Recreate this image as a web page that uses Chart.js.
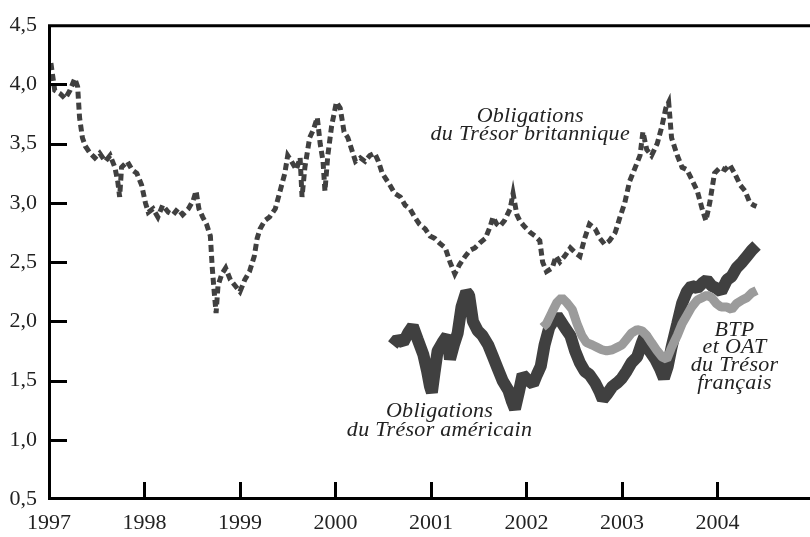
<!DOCTYPE html>
<html>
<head>
<meta charset="utf-8">
<script src="https://cdn.jsdelivr.net/npm/chart.js@4"></script>
<style>
  body { margin: 0; background: #fff; }
  #wrap { width: 810px; height: 537px; }
</style>
</head>
<body>
<div id="wrap"><canvas id="chart" width="810" height="537"></canvas></div>
<script>
// UK gilts (Obligations du Trésor britannique)
const ukDates = [
  1997.02, 1997.06, 1997.12, 1997.17, 1997.22, 1997.27, 1997.30, 1997.32, 1997.35, 1997.38,
  1997.43, 1997.48, 1997.53, 1997.59, 1997.64, 1997.69, 1997.72, 1997.74, 1997.76, 1997.82,
  1997.87, 1997.92, 1997.97, 1998.01, 1998.04, 1998.09, 1998.14, 1998.19, 1998.25, 1998.30,
  1998.35, 1998.40, 1998.46, 1998.51, 1998.54, 1998.57, 1998.61, 1998.65, 1998.69, 1998.71,
  1998.73, 1998.75, 1998.77, 1998.81, 1998.85, 1998.90, 1998.95, 1999.00, 1999.05, 1999.10,
  1999.15, 1999.18, 1999.21, 1999.26, 1999.31, 1999.37, 1999.42, 1999.47, 1999.50, 1999.54,
  1999.59, 1999.63, 1999.65, 1999.68, 1999.73, 1999.77, 1999.81, 1999.84, 1999.87, 1999.89,
  1999.92, 1999.96, 2000.01, 2000.05, 2000.09, 2000.13, 2000.17, 2000.21, 2000.26, 2000.31,
  2000.36, 2000.41, 2000.45, 2000.49, 2000.53, 2000.57, 2000.62, 2000.68, 2000.73, 2000.78,
  2000.83, 2000.88, 2000.94, 2000.99, 2001.04, 2001.09, 2001.15, 2001.20, 2001.25, 2001.30,
  2001.36, 2001.41, 2001.46, 2001.51, 2001.57, 2001.62, 2001.65, 2001.69, 2001.72, 2001.77,
  2001.83, 2001.86, 2001.90, 2001.93, 2001.98, 2002.04, 2002.09, 2002.14, 2002.17, 2002.21,
  2002.27, 2002.31, 2002.35, 2002.40, 2002.46, 2002.51, 2002.56, 2002.61, 2002.66, 2002.72,
  2002.77, 2002.82, 2002.87, 2002.93, 2002.98, 2003.03, 2003.08, 2003.14, 2003.19, 2003.22,
  2003.26, 2003.31, 2003.37, 2003.42, 2003.46, 2003.49, 2003.52, 2003.58, 2003.63, 2003.68,
  2003.73, 2003.79, 2003.84, 2003.88, 2003.92, 2003.97, 2004.03, 2004.08, 2004.13, 2004.18,
  2004.24, 2004.29, 2004.34, 2004.38, 2004.41
];
const ukYields = [
  4.18, 3.95, 3.92, 3.88, 3.95, 4.05, 3.98, 3.72, 3.55, 3.48,
  3.42, 3.38, 3.42, 3.35, 3.40, 3.30, 3.18, 3.05, 3.30, 3.35,
  3.28, 3.25, 3.15, 3.00, 2.92, 2.95, 2.88, 2.98, 2.92, 2.90,
  2.95, 2.90, 2.95, 3.02, 3.10, 2.95, 2.88, 2.82, 2.72, 2.45,
  2.25, 2.07, 2.30, 2.40, 2.45, 2.35, 2.30, 2.25, 2.35, 2.42,
  2.55, 2.70, 2.78, 2.85, 2.88, 2.95, 3.10, 3.25, 3.40, 3.35,
  3.28, 3.38, 3.05, 3.30, 3.55, 3.62, 3.72, 3.50, 3.35, 3.10,
  3.40, 3.65, 3.85, 3.80, 3.60, 3.55, 3.45, 3.35, 3.38, 3.35,
  3.40, 3.42, 3.35, 3.25, 3.20, 3.15, 3.08, 3.05, 2.98, 2.95,
  2.88, 2.82, 2.78, 2.72, 2.70, 2.66, 2.62, 2.50, 2.40, 2.48,
  2.55, 2.60, 2.62, 2.66, 2.70, 2.80, 2.88, 2.82, 2.80, 2.85,
  2.95, 3.08, 2.90, 2.85, 2.80, 2.75, 2.72, 2.68, 2.50, 2.42,
  2.45, 2.55, 2.50, 2.55, 2.62, 2.58, 2.55, 2.70, 2.82, 2.78,
  2.70, 2.65, 2.68, 2.75, 2.88, 3.00, 3.18, 3.30, 3.40, 3.60,
  3.45, 3.40, 3.50, 3.65, 3.80, 3.85, 3.55, 3.40, 3.30, 3.28,
  3.20, 3.10, 2.95, 2.85, 3.00, 3.25, 3.30, 3.28, 3.32, 3.25,
  3.15, 3.10, 3.00, 2.98, 2.97
];

// US Treasuries (Obligations du Trésor américain)
const usDates = [
  2000.60, 2000.65, 2000.71, 2000.76, 2000.81, 2000.86, 2000.92, 2000.96, 2000.99, 2001.01,
  2001.04, 2001.07, 2001.12, 2001.17, 2001.20, 2001.24, 2001.28, 2001.32, 2001.37, 2001.40,
  2001.44, 2001.49, 2001.54, 2001.60, 2001.65, 2001.70, 2001.75, 2001.81, 2001.85, 2001.88,
  2001.92, 2001.96, 2002.02, 2002.07, 2002.11, 2002.15, 2002.19, 2002.24, 2002.28, 2002.32,
  2002.36, 2002.40, 2002.46, 2002.51, 2002.56, 2002.61, 2002.66, 2002.72, 2002.77, 2002.80,
  2002.84, 2002.90, 2002.95, 2003.00, 2003.05, 2003.10, 2003.16, 2003.21, 2003.24, 2003.29,
  2003.35, 2003.40, 2003.44, 2003.48, 2003.52, 2003.58, 2003.63, 2003.68, 2003.73, 2003.79,
  2003.84, 2003.89, 2003.94, 2003.99, 2004.04, 2004.10, 2004.15, 2004.20, 2004.26, 2004.31,
  2004.36, 2004.41
];
const usYields = [
  1.80, 1.85, 1.82, 1.90, 1.96, 1.85, 1.72, 1.58, 1.45, 1.40,
  1.58, 1.75, 1.82, 1.88, 1.68, 1.80, 1.90, 2.12, 2.25, 2.22,
  2.00, 1.92, 1.88, 1.80, 1.70, 1.60, 1.50, 1.42, 1.32, 1.26,
  1.40, 1.55, 1.50, 1.47, 1.55, 1.62, 1.80, 1.95, 2.00, 2.05,
  2.00, 1.95, 1.88, 1.75, 1.65, 1.58, 1.55, 1.48, 1.40, 1.34,
  1.38, 1.45, 1.48, 1.52, 1.58, 1.65, 1.70, 1.82, 1.88, 1.75,
  1.68, 1.60, 1.52, 1.62, 1.78, 1.98, 2.15, 2.25, 2.30, 2.28,
  2.32, 2.35, 2.30, 2.28, 2.25, 2.35, 2.38, 2.45, 2.50, 2.55,
  2.60, 2.64
];

// French BTP and OAT (du Trésor français)
const frDates = [
  2002.17, 2002.21, 2002.27, 2002.32, 2002.37, 2002.42, 2002.48, 2002.53, 2002.58, 2002.63,
  2002.69, 2002.74, 2002.79, 2002.84, 2002.90, 2002.95, 2003.00, 2003.05, 2003.10, 2003.16,
  2003.21, 2003.26, 2003.31, 2003.37, 2003.42, 2003.47, 2003.52, 2003.58, 2003.63, 2003.68,
  2003.73, 2003.79, 2003.84, 2003.89, 2003.94, 2003.99, 2004.04, 2004.10, 2004.15, 2004.20,
  2004.26, 2004.31, 2004.36, 2004.41
];
const frYields = [
  1.95, 1.98, 2.08, 2.16, 2.20, 2.16, 2.10, 1.98, 1.88, 1.82,
  1.80, 1.78, 1.76, 1.75, 1.76, 1.78, 1.80, 1.85, 1.90, 1.93,
  1.92, 1.88, 1.82, 1.75, 1.70, 1.68, 1.78, 1.88, 1.98, 2.05,
  2.12, 2.18, 2.20, 2.22, 2.20, 2.15, 2.12, 2.12, 2.10, 2.15,
  2.18, 2.20, 2.24, 2.26
];

const yTicks = [0.5, 1.0, 1.5, 2.0, 2.5, 3.0, 3.5, 4.0, 4.5];
const xTicks = [1997, 1998, 1999, 2000, 2001, 2002, 2003, 2004];

function toPoints(dates, values) {
    return dates.map((d, i) => ({ x: d, y: values[i] }));
}

// series captions, placed in data coordinates
const captions = [
    { x: 2002.04, y: 3.68, text: "Obligations" },
    { x: 2002.04, y: 3.53, text: "du Trésor britannique" },
    { x: 2001.09, y: 1.19, text: "Obligations" },
    { x: 2001.09, y: 1.03, text: "du Trésor américain" },
    { x: 2004.18, y: 1.88, text: "BTP" },
    { x: 2004.18, y: 1.73, text: "et OAT" },
    { x: 2004.18, y: 1.58, text: "du Trésor" },
    { x: 2004.18, y: 1.43, text: "français" }
];

// axis frame with inward ticks + captions
const framePlugin = {
    id: "frame",
    afterDraw(chart) {
        const ctx = chart.ctx;
        const area = chart.chartArea;
        const xs = chart.scales.x;
        const ys = chart.scales.y;
        ctx.save();
        ctx.strokeStyle = "#000";
        ctx.lineWidth = 3;
        ctx.beginPath();
        ctx.moveTo(chart.width, area.top + 0.5);
        ctx.lineTo(area.left + 0.5, area.top + 0.5);
        ctx.lineTo(area.left + 0.5, area.bottom - 0.5);
        ctx.lineTo(chart.width, area.bottom - 0.5);
        ctx.stroke();

        ctx.beginPath();
        yTicks.forEach(v => {
            const py = Math.round(ys.getPixelForValue(v)) + 0.5;
            if (v === 4.5 || v === 0.5) return;
            ctx.moveTo(area.left, py);
            ctx.lineTo(area.left + 18, py);
        });
        xTicks.forEach(v => {
            const px = Math.round(xs.getPixelForValue(v)) + 0.5;
            if (v === 1997) return;
            ctx.moveTo(px, area.bottom);
            ctx.lineTo(px, area.bottom - 17);
        });
        ctx.stroke();

        ctx.fillStyle = "#222";
        ctx.font = "italic 22px 'Liberation Serif', 'Times New Roman', serif";
        ctx.letterSpacing = "0.3px";
        ctx.textAlign = "center";
        ctx.textBaseline = "alphabetic";
        captions.forEach(c => {
            ctx.fillText(c.text, xs.getPixelForValue(c.x), ys.getPixelForValue(c.y));
        });
        ctx.restore();
    }
};

const serif = "'Liberation Serif', 'Times New Roman', serif";

new Chart(document.getElementById("chart"), {
    type: "line",
    data: {
        datasets: [
            {
                label: "BTP et OAT du Trésor français",
                data: toPoints(frDates, frYields),
                borderColor: "#9b9b9b",
                borderWidth: 9
            },
            {
                label: "Obligations du Trésor américain",
                data: toPoints(usDates, usYields),
                borderColor: "#404040",
                borderWidth: 12
            },
            {
                label: "Obligations du Trésor britannique",
                data: toPoints(ukDates, ukYields),
                borderColor: "#404040",
                borderWidth: 5,
                borderDash: [7, 4],
                borderJoinStyle: "miter"
            }
        ]
    },
    options: {
        responsive: false,
        animation: false,
        layout: { padding: { top: 19, right: 0, left: 0, bottom: 0 } },
        elements: {
            point: { radius: 0 },
            line: { tension: 0, borderJoinStyle: "bevel", borderCapStyle: "butt" }
        },
        plugins: {
            legend: { display: false },
            tooltip: { enabled: false }
        },
        scales: {
            x: {
                type: "linear",
                min: 1997,
                max: 2004.97,
                grid: { display: false, drawTicks: false },
                border: { display: false },
                afterBuildTicks: scale => { scale.ticks = xTicks.map(v => ({ value: v })); },
                afterFit: scale => { scale.height = 38; },
                ticks: {
                    padding: 11,
                    color: "#222",
                    font: { family: serif, size: 22 },
                    maxRotation: 0,
                    autoSkip: false,
                    callback: v => String(v)
                }
            },
            y: {
                min: 0.5,
                max: 4.5,
                grid: { display: false, drawTicks: false },
                border: { display: false },
                afterBuildTicks: scale => { scale.ticks = yTicks.map(v => ({ value: v })); },
                afterFit: scale => { scale.width = 49; },
                ticks: {
                    padding: 12,
                    color: "#222",
                    font: { family: serif, size: 22 },
                    callback: v => v.toFixed(1).replace(".", ",")
                }
            }
        }
    },
    plugins: [framePlugin]
});
</script>
</body>
</html>
